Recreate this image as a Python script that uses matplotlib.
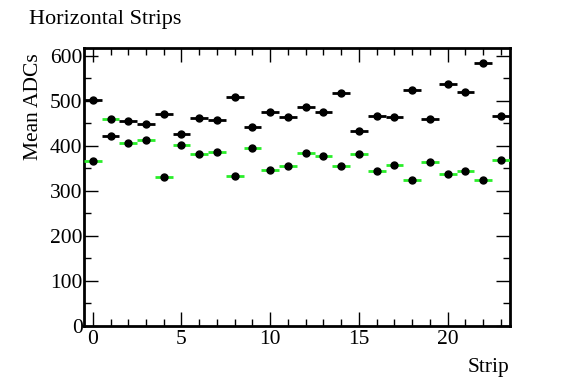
import matplotlib
matplotlib.use("Agg")
import matplotlib.pyplot as plt
import numpy as np
from matplotlib.ticker import MultipleLocator

plt.rcParams['font.family'] = ['Liberation Serif', 'DejaVu Serif']

strips = np.arange(24)
mean_black = [502, 421, 456, 449, 470, 427, 461, 457, 508, 441, 475, 463,
              485, 475, 518, 433, 467, 464, 523, 460, 538, 519, 583, 467]
mean_green = [366, 460, 407, 413, 330, 401, 381, 386, 332, 396, 346, 356,
              383, 377, 356, 381, 345, 358, 324, 363, 338, 343, 324, 369]
xerr = 0.5

fig = plt.figure(figsize=(5.67, 3.84), dpi=100)
ax = fig.add_axes([0.148, 0.151, 0.751, 0.724])

ax.errorbar(strips, mean_green, xerr=xerr, fmt='o', color='black', ms=5,
            ecolor='#2aee2a', elinewidth=2, capsize=0, zorder=3)
ax.errorbar(strips, mean_black, xerr=xerr, fmt='o', color='black', ms=5,
            ecolor='black', elinewidth=2, capsize=0, zorder=3)

ax.set_xlim(-0.5, 23.5)
ax.set_ylim(0, 617)
ax.xaxis.set_major_locator(MultipleLocator(5))
ax.xaxis.set_minor_locator(MultipleLocator(1))
ax.yaxis.set_major_locator(MultipleLocator(100))
ax.yaxis.set_minor_locator(MultipleLocator(50))
ax.tick_params(which='both', direction='in', top=True, right=True, labelsize=15.5, width=1)
ax.tick_params(which='major', length=10)
ax.tick_params(which='minor', length=5)
ax.tick_params(axis='x', pad=3)
ax.tick_params(axis='y', pad=1)
for s in ax.spines.values():
    s.set_linewidth(2)

ax.set_ylabel('Mean ADCs', fontsize=15.5, loc='top', labelpad=5)
ax.yaxis.set_label_coords(-0.097, 0.98)
ax.set_xlabel('Strip', fontsize=15.5, loc='right', labelpad=6)
fig.text(0.052, 0.975, 'Horizontal Strips', fontsize=16, ha='left', va='top')

fig.savefig('out.png', dpi=100)
